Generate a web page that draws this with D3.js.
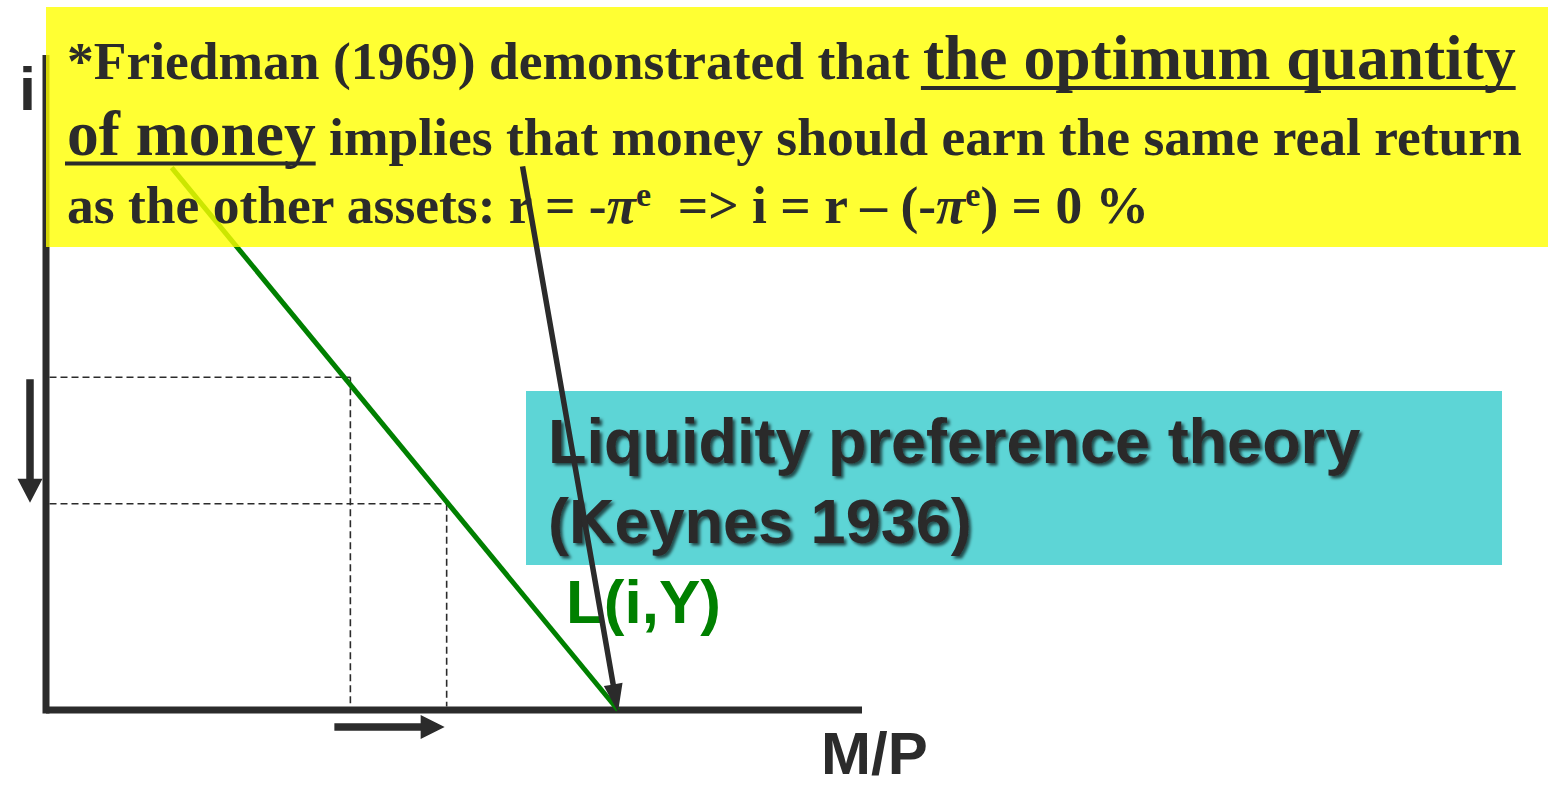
<!DOCTYPE html>
<html><head><meta charset="utf-8">
<script src="https://cdn.jsdelivr.net/npm/d3@7"></script>
<style>
html,body{margin:0;padding:0;background:#fff;}
svg{display:block;}
text{white-space:pre;}
</style></head><body>
<svg id="chart" width="1550" height="787"></svg>
<script>
// Money demand curve L(i,Y), as (M/P, i) points
const demandCurve = [ {m: 15.4, i: 82.8}, {m: 70.1, i: 0} ];
// Two interest-rate levels and the real balances they imply on the curve
const rateLevels  = [50.8, 31.5];
const moneyLevels = [37.3, 49.1];
// Pointer from the Friedman note down to i = 0
const friedmanPointer = [ {m: 58.4, i: 83.0}, {m: 70.1, i: 0} ];
// Labels
const axisLabels  = { x: "M/P", y: "i" };
const curveLabel  = "L(i,Y)";
const theoryTitle = ["Liquidity preference theory", "(Keynes 1936)"];
const noteLines = [
  [ {t: "*Friedman (1969) demonstrated that "}, {t: "the optimum quantity", big: true, u: true} ],
  [ {t: "of money", big: true, u: true}, {t: " implies that money should earn the same real return"} ],
  [ {t: "as the other assets: r = -"}, {t: "\u03c0", it: true}, {t: "e", sup: true},
    {t: "  => i = r \u2013 (-"}, {t: "\u03c0", it: true}, {t: "e", sup: true}, {t: ") = 0 %"} ]
];

const DARK = "#2b2b2b", GREEN = "#008000";
const svg = d3.select("#chart");

const x = d3.scaleLinear().domain([0, 100]).range([46, 862]);
const y = d3.scaleLinear().domain([0, 100]).range([710, 55]);

const defs = svg.append("defs");
defs.append("filter").attr("id", "shadow").attr("x", "-5%").attr("y", "-10%")
  .attr("width", "115%").attr("height", "130%")
  .append("feDropShadow").attr("dx", 2.5).attr("dy", 2.5).attr("stdDeviation", 1.8)
  .attr("flood-color", "#000").attr("flood-opacity", 0.65);

// Filled arrow: shaft + triangular head, tip at (x2,y2)
function arrowPath(x1, y1, x2, y2, shaft, headLen, headW) {
  const dx = x2 - x1, dy = y2 - y1, L = Math.hypot(dx, dy);
  const ux = dx / L, uy = dy / L, nx = -uy, ny = ux;
  const bx = x2 - ux * headLen, by = y2 - uy * headLen;
  const p = [
    [x1 + nx * shaft / 2, y1 + ny * shaft / 2],
    [bx + nx * shaft / 2, by + ny * shaft / 2],
    [bx + nx * headW / 2, by + ny * headW / 2],
    [x2, y2],
    [bx - nx * headW / 2, by - ny * headW / 2],
    [bx - nx * shaft / 2, by - ny * shaft / 2],
    [x1 - nx * shaft / 2, y1 - ny * shaft / 2]
  ];
  return "M" + p.map(d => d.join(",")).join("L") + "Z";
}

// Axes
svg.append("line").attr("x1", x(0)).attr("x2", x(0)).attr("y1", y(100)).attr("y2", y(0) + 3.5)
  .attr("stroke", DARK).attr("stroke-width", 7);
svg.append("line").attr("x1", x(0)).attr("x2", x(100)).attr("y1", y(0)).attr("y2", y(0))
  .attr("stroke", DARK).attr("stroke-width", 7);

// Dashed guides from each rate level to the curve and down to the M/P axis
rateLevels.forEach((r, k) => {
  const m = moneyLevels[k];
  const g = svg.append("g").attr("stroke", DARK).attr("stroke-width", 1.6)
    .attr("stroke-dasharray", "7,4").attr("fill", "none");
  g.append("line").attr("x1", x(0) + 3.5).attr("x2", x(m)).attr("y1", y(r)).attr("y2", y(r));
  g.append("line").attr("x1", x(m)).attr("x2", x(m)).attr("y1", y(r)).attr("y2", y(0) - 3.5);
});

// Demand curve
svg.append("path").datum(demandCurve)
  .attr("d", d3.line().x(d => x(d.m)).y(d => y(d.i)))
  .attr("stroke", GREEN).attr("stroke-width", 5).attr("fill", "none");

// Direction arrows: falling rate, rising real balances
svg.append("path")
  .attr("d", arrowPath(x(0) - 16, y(rateLevels[0]) + 2, x(0) - 16, y(rateLevels[1]) - 1, 7.5, 24, 25))
  .attr("fill", DARK);
svg.append("path")
  .attr("d", arrowPath(x(moneyLevels[0]) - 16, y(0) + 17, x(moneyLevels[1]) - 2, y(0) + 17, 7.5, 24, 24))
  .attr("fill", DARK);

// Friedman note
svg.append("rect").attr("x", 46).attr("y", 7).attr("width", 1502).attr("height", 240)
  .attr("fill", "#ffff00").attr("fill-opacity", 0.8);

const noteBaselines = [79, 155, 223];
const SMALL = 53.5, BIG = 63.5;
const note = svg.append("g").attr("font-family", "'Liberation Serif','Times New Roman',serif")
  .attr("font-weight", "bold").attr("fill", DARK);
noteLines.forEach((segs, li) => {
  const t = note.append("text").attr("x", 67).attr("y", noteBaselines[li]);
  let raised = false;
  segs.forEach(s => {
    const ts = t.append("tspan").text(s.t)
      .attr("font-size", s.big ? BIG : s.sup ? 34 : SMALL);
    if (s.it) ts.attr("font-style", "italic");
    if (s.sup) { ts.attr("dy", -17); raised = true; }
    else if (raised) { ts.attr("dy", 17); raised = false; }
    s.node = ts.node();
  });
  // underline the emphasised phrases
  segs.filter(s => s.u).forEach(s => {
    const n = s.node, len = s.t.length;
    const x0 = n.getStartPositionOfChar(0).x, x1 = n.getEndPositionOfChar(len - 1).x;
    note.append("rect").attr("x", x0 - 2).attr("y", noteBaselines[li] + (li === 0 ? 7 : 6.5))
      .attr("width", x1 - x0 + 2).attr("height", 4).attr("fill", DARK);
  });
});

// Keynes box
svg.append("rect").attr("x", 526).attr("y", 391).attr("width", 976).attr("height", 174)
  .attr("fill", "#5dd5d6");
const title = svg.append("g").attr("font-family", "'Liberation Sans',Arial,sans-serif")
  .attr("font-weight", "bold").attr("font-size", 63).attr("fill", DARK).attr("filter", "url(#shadow)");
theoryTitle.forEach((s, k) => title.append("text").attr("x", 548).attr("y", 463 + k * 80).text(s));

// Curve and axis labels
const sans = "'Liberation Sans',Arial,sans-serif";
svg.append("text").attr("x", 566).attr("y", 623).attr("font-family", sans).attr("font-weight", "bold")
  .attr("font-size", 62).attr("fill", GREEN).text(curveLabel);
svg.append("text").attr("x", 821).attr("y", 774).attr("font-family", sans).attr("font-weight", "bold")
  .attr("font-size", 60).attr("fill", DARK).text(axisLabels.x);
svg.append("text").attr("x", 19).attr("y", 110).attr("font-family", sans).attr("font-weight", "bold")
  .attr("font-size", 61).attr("fill", DARK).text(axisLabels.y);

// Pointer from the note to the zero-interest point
svg.append("path")
  .attr("d", arrowPath(x(friedmanPointer[0].m), y(friedmanPointer[0].i),
                       x(friedmanPointer[1].m), y(friedmanPointer[1].i) + 2, 5.5, 28, 19))
  .attr("fill", DARK);
</script>
</body></html>
